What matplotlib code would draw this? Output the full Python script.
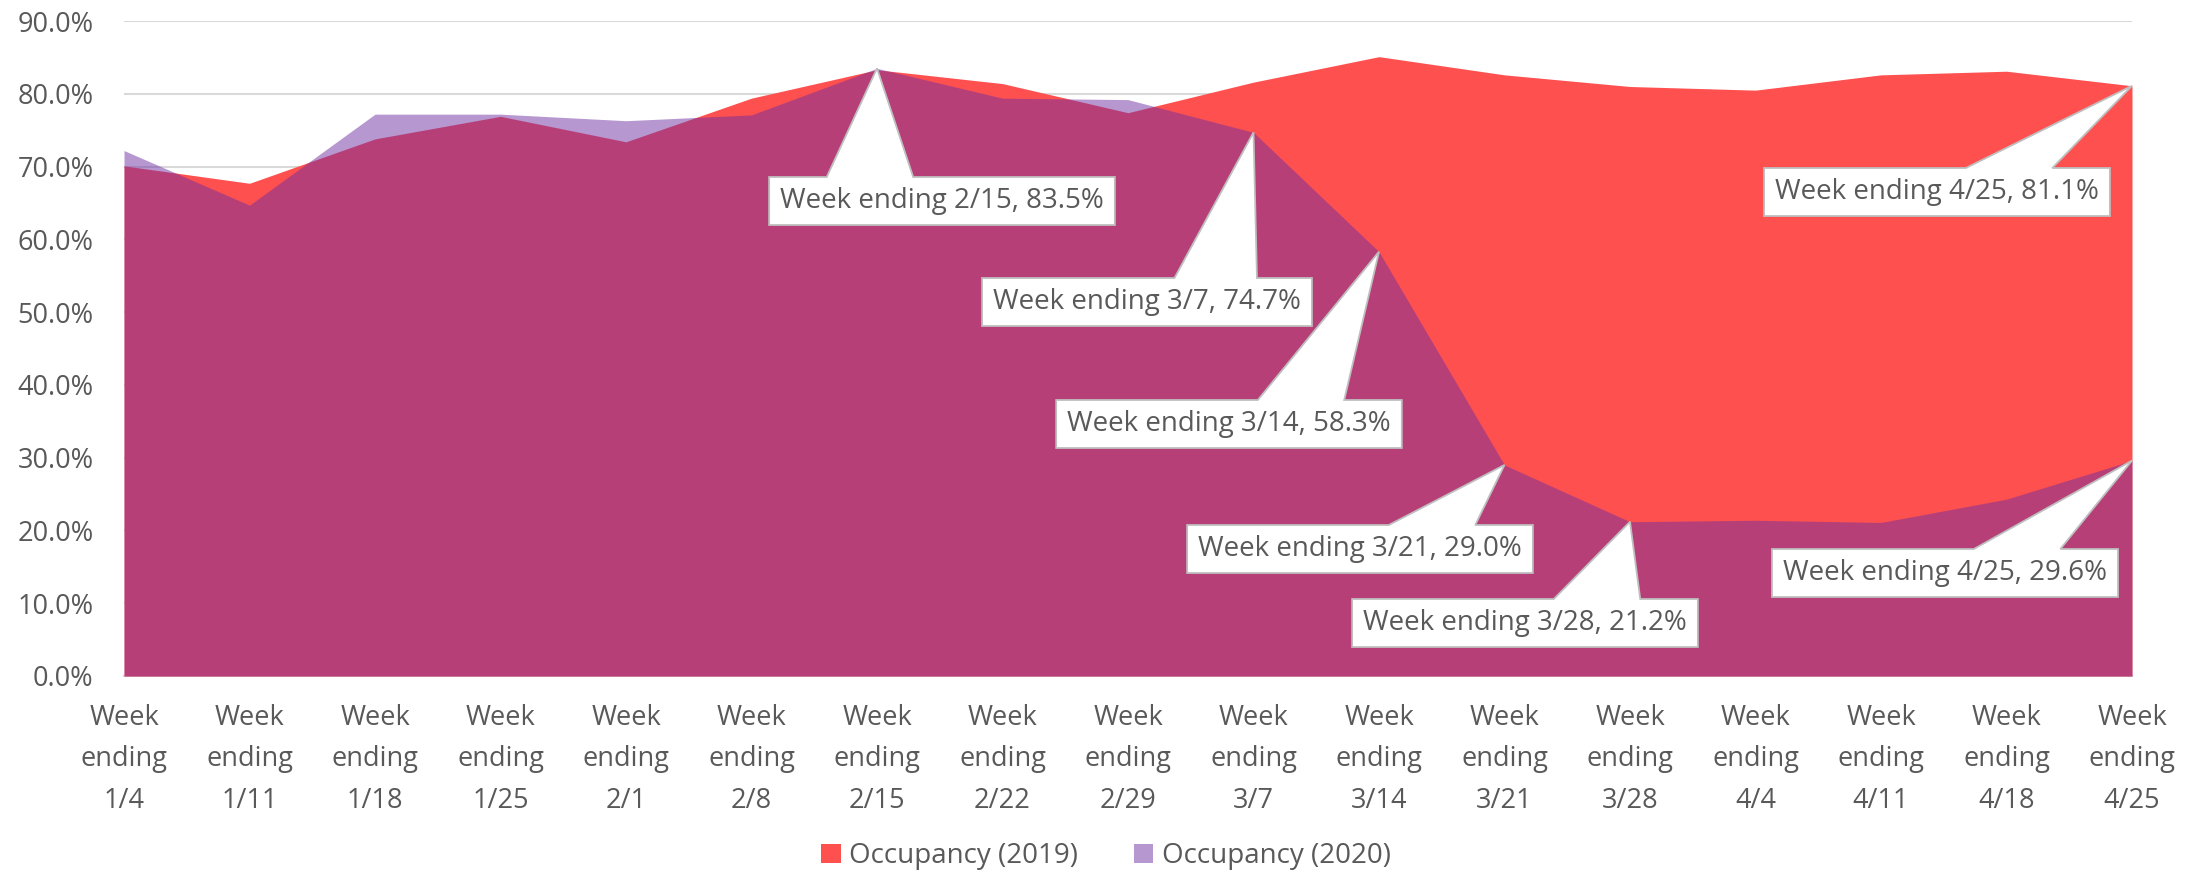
import matplotlib
matplotlib.use("Agg")
import matplotlib.pyplot as plt
from matplotlib.ticker import FuncFormatter, MultipleLocator
from matplotlib.patches import Polygon
from matplotlib.transforms import IdentityTransform

weeks = ['1/4', '1/11', '1/18', '1/25', '2/1', '2/8', '2/15', '2/22', '2/29',
         '3/7', '3/14', '3/21', '3/28', '4/4', '4/11', '4/18', '4/25']
occ_2019 = [70.1, 67.7, 73.8, 76.9, 73.4, 79.4, 83.3, 81.4, 77.4,
            81.6, 85.1, 82.6, 81.0, 80.5, 82.6, 83.1, 81.1]
occ_2020 = [72.2, 64.7, 77.2, 77.2, 76.3, 77.1, 83.5, 79.4, 79.2,
            74.7, 58.3, 29.0, 21.2, 21.4, 21.1, 24.3, 29.6]
series_names = ['Occupancy (2019)', 'Occupancy (2020)']

# callouts: (series, index, box centre in figure pixels from top-left)
callouts = [
    ('2020', 6, (942, 201)),
    ('2020', 9, (1147, 302)),
    ('2020', 10, (1229, 424)),
    ('2020', 11, (1360, 549)),
    ('2020', 12, (1525, 623)),
    ('2020', 16, (1945, 573)),
    ('2019', 16, (1937, 192)),
]

W, H = 2203, 875
FONT = 'Open Sans'
TXT = '#595959'
RED = '#FF5050'
PURPLE = '#7030A0'
GRID = '#D9D9D9'
EDGE = '#BFBFBF'

plt.rcParams['font.family'] = [FONT, 'DejaVu Sans']

fig = plt.figure(figsize=(W / 100, H / 100), dpi=100)
ax = fig.add_axes([124 / W, 1 - 676 / H, (2132 - 124) / W, (676 - 21) / H])

x = list(range(len(weeks)))
ax.fill_between(x, 0, occ_2019, color=RED, linewidth=0, zorder=2, label=series_names[0])
ax.fill_between(x, 0, occ_2020, color=PURPLE, alpha=0.5, linewidth=0, zorder=3,
                label=series_names[1])

ax.set_xlim(0, len(weeks) - 1)
ax.set_ylim(0, 90)
ax.yaxis.set_major_locator(MultipleLocator(10))
ax.yaxis.set_major_formatter(FuncFormatter(lambda v, p: f'{v:.1f}%'))
ax.grid(axis='y', color=GRID, linewidth=1.5, zorder=0)
ax.set_axisbelow(True)
for s in ['top', 'right', 'left']:
    ax.spines[s].set_visible(False)
ax.spines['bottom'].set_color(GRID)
ax.spines['bottom'].set_linewidth(1.5)
ax.spines['bottom'].set_zorder(1)

ax.set_xticks(x)
ax.set_xticklabels([f'Week\nending\n{w}' for w in weeks], linespacing=1.65)
ax.tick_params(axis='x', length=0, pad=20, labelsize=19.5, labelcolor=TXT)
ax.tick_params(axis='y', length=0, pad=22, labelsize=19.5, labelcolor=TXT)

leg = fig.legend(loc='center', bbox_to_anchor=(1106 / W, 1 - 856 / H), ncol=2,
                 frameon=False, fontsize=20, handlelength=0.7, handleheight=0.7,
                 handletextpad=0.3, columnspacing=2.0, labelcolor=TXT)

# callouts
data = {'2019': occ_2019, '2020': occ_2020}
texts = []
for ser, i, (cx, cy) in callouts:
    v = data[ser][i]
    t = fig.text(cx, H - cy, f'Week ending {weeks[i]}, {v:.1f}%',
                 transform=IdentityTransform(), ha='center', va='center',
                 fontsize=20, color=TXT, zorder=6)
    texts.append((t, i, v, cx, H - cy))

fig.canvas.draw()
renderer = fig.canvas.get_renderer()
BOX_H = 48
for t, i, v, cx, cy in texts:
    bb = t.get_window_extent(renderer)
    w = bb.width + 22
    L, R = cx - w / 2, cx + w / 2
    B, T = cy - BOX_H / 2, cy + BOX_H / 2
    tx, ty = ax.transData.transform((i, v))
    if tx >= cx:
        b1, b2 = L + w * 7 / 12, L + w * 5 / 6
    else:
        b1, b2 = L + w / 6, L + w * 5 / 12
    if ty > T:
        verts = [(L, B), (R, B), (R, T), (b2, T), (tx, ty), (b1, T), (L, T)]
    else:
        verts = [(L, B), (b1, B), (tx, ty), (b2, B), (R, B), (R, T), (L, T)]
    poly = Polygon(verts, closed=True, facecolor='white', edgecolor=EDGE,
                   linewidth=1.3, joinstyle='miter', transform=IdentityTransform(),
                   zorder=5)
    fig.add_artist(poly)

fig.savefig('out.png', dpi=100, facecolor='white')
